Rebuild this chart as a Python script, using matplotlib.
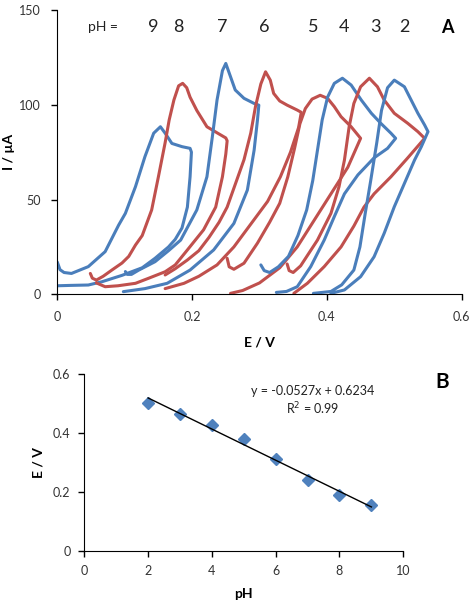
import numpy as np
import matplotlib.pyplot as plt

plt.rcParams['font.family'] = ['Lato', 'DejaVu Sans']

BLUE = '#4a7ebb'
RED = '#c0504d'

# --- panel A: voltammograms (E in V, I in uA) ---
e_ph9 = [0.000, 0.004, 0.010, 0.021, 0.046, 0.071, 0.091, 0.101, 0.116, 0.130, 0.143, 0.153, 0.160, 0.170, 0.185,
         0.197, 0.199, 0.197, 0.193, 0.185, 0.175, 0.165, 0.145, 0.126, 0.096, 0.066, 0.046, 0.020, 0.000]
i_ph9 = [17, 13, 11.5, 11, 14.6, 22.5, 36.5, 42.7, 56.8, 72.6, 85, 88.4, 85, 79.6, 77.9,
         77, 75, 62, 46, 35, 29, 25, 19, 14, 10, 6.6, 4.9, 4.7, 4.5]

e_ph8 = [0.049, 0.052, 0.058, 0.068, 0.081, 0.096, 0.106, 0.116, 0.126, 0.140, 0.150, 0.160, 0.166, 0.173, 0.180,
         0.186, 0.192, 0.197, 0.207, 0.222, 0.238, 0.250, 0.252, 0.250, 0.245, 0.235, 0.217, 0.193, 0.175,
         0.160, 0.135, 0.116, 0.090, 0.071, 0.058]
i_ph8 = [11, 8.5, 7.5, 9.5, 12.8, 16.5, 20, 26, 31, 44.5, 62, 80, 92, 102.5, 110,
         111.3, 109, 104, 97, 88.4, 85, 82.5, 81, 74, 62, 46, 34, 23.4, 15.5,
         11.9, 8.4, 5.8, 4.5, 4, 6]

e_ph7 = [0.101, 0.104, 0.110, 0.121, 0.145, 0.165, 0.183, 0.207, 0.222, 0.230, 0.237, 0.245, 0.250, 0.257, 0.264,
         0.277, 0.292, 0.299, 0.297, 0.292, 0.282, 0.262, 0.232, 0.197, 0.163, 0.130, 0.098]
i_ph7 = [12, 10.5, 10.5, 12.8, 17.2, 23, 28.6, 44.5, 62, 83, 102.5, 118, 121.8, 114.8, 107.8,
         103.4, 100.7, 99.8, 92, 76, 55, 37.4, 23.4, 12.8, 5.8, 3, 1.4]

e_ph6 = [0.160, 0.175, 0.193, 0.210, 0.225, 0.240, 0.252, 0.262, 0.277, 0.287, 0.294, 0.302, 0.309, 0.316, 0.321,
         0.330, 0.341, 0.356, 0.362, 0.358, 0.346, 0.331, 0.312, 0.287, 0.262, 0.237, 0.210, 0.188, 0.160]
i_ph6 = [10.2, 13.5, 18.1, 23, 30, 38, 46, 56, 71, 85, 99, 111, 117.4, 113, 106,
         102, 99.8, 97.2, 96, 88, 75, 62, 49, 37, 25, 15.5, 9.5, 5.8, 3]

e_ph5 = [0.252, 0.255, 0.262, 0.277, 0.297, 0.315, 0.330, 0.342, 0.352, 0.360, 0.368, 0.378, 0.390, 0.401, 0.411,
         0.421, 0.436, 0.450, 0.431, 0.406, 0.381, 0.356, 0.330, 0.300, 0.275, 0.257]
i_ph5 = [19, 14.5, 13.2, 16.4, 27, 38, 48, 62, 77, 90, 98, 103, 105, 103.4, 99,
         93.7, 88.4, 82.3, 67, 53, 39, 25, 14, 6, 2, 0.5]

e_ph4 = [0.302, 0.307, 0.315, 0.328, 0.343, 0.357, 0.370, 0.379, 0.386, 0.393, 0.401, 0.411, 0.423, 0.436, 0.451,
         0.466, 0.480, 0.495, 0.502, 0.490, 0.470, 0.446, 0.426, 0.411, 0.396, 0.376, 0.356, 0.340, 0.325]
i_ph4 = [15.5, 12.5, 11.5, 14.5, 20, 31, 44.5, 60, 76, 92, 104, 111.3, 114, 110.4, 102.5,
         95.5, 90.2, 85, 82.3, 77, 72, 63, 53, 41, 28.6, 14.6, 4, 1.5, 1]

e_ph3 = [0.341, 0.344, 0.350, 0.361, 0.386, 0.406, 0.418, 0.426, 0.433, 0.440, 0.450, 0.463, 0.475, 0.485, 0.500,
         0.520, 0.535, 0.545, 0.520, 0.495, 0.470, 0.455, 0.440, 0.421, 0.396, 0.371, 0.351]
i_ph3 = [16, 12.5, 11.5, 15, 28.6, 42.7, 56.8, 70.8, 88.4, 100.7, 109.5, 114, 109.5, 102.5, 95.5,
         90.2, 85.8, 82.3, 72, 62, 53, 46, 36, 25, 14.6, 5.8, 0.5]

e_ph2 = [0.380, 0.406, 0.422, 0.440, 0.449, 0.457, 0.465, 0.474, 0.481, 0.490, 0.500, 0.515, 0.525, 0.535, 0.545,
         0.550, 0.540, 0.530, 0.515, 0.500, 0.485, 0.470, 0.450, 0.426, 0.406]
i_ph2 = [0.5, 1.5, 5, 12.8, 25, 43, 60, 80, 97, 109, 113, 109.5, 102.5, 95.5, 89.3,
         85.8, 77.8, 70.8, 58.5, 46.2, 32.2, 19.8, 9.3, 2.3, 0.5]

curves = [(e_ph9, i_ph9, BLUE), (e_ph8, i_ph8, RED), (e_ph7, i_ph7, BLUE), (e_ph6, i_ph6, RED),
          (e_ph5, i_ph5, RED), (e_ph4, i_ph4, BLUE), (e_ph3, i_ph3, RED), (e_ph2, i_ph2, BLUE)]

ph_labels = ['9', '8', '7', '6', '5', '4', '3', '2']
ph_label_x = [0.142, 0.180, 0.245, 0.307, 0.380, 0.425, 0.472, 0.515]

# --- panel B: peak potential vs pH ---
ph = [2, 3, 4, 5, 6, 7, 8, 9]
e_peak = [0.50, 0.465, 0.425, 0.38, 0.31, 0.24, 0.19, 0.155]
slope, intercept = -0.0527, 0.6234

W, H = 476, 608
fig = plt.figure(figsize=(W / 100, H / 100), dpi=100)

tick_col = '#333333'

ax1 = fig.add_axes([57.3 / W, 1 - 294.3 / H, 404.4 / W, 284.3 / H])
for e, i, c in curves:
    ax1.plot(e, i, color=c, lw=2.2, solid_joinstyle='round', solid_capstyle='round')
ax1.set_xlim(0, 0.6)
ax1.set_ylim(0, 150)
ax1.set_xticks([0, 0.2, 0.4, 0.6])
ax1.set_xticklabels(['0', '0.2', '0.4', '0.6'])
ax1.set_yticks([0, 50, 100, 150])
ax1.spines[['top', 'right']].set_visible(False)
ax1.tick_params(direction='out', length=4, width=1, labelsize=9, labelcolor=tick_col, pad=8)
ax1.set_xlabel('E / V', fontsize=10, fontweight='bold', labelpad=10)
ax1.set_ylabel('I / µA', fontsize=10, fontweight='bold', labelpad=3)
ax1.text(0.068, 141, 'pH =', fontsize=10, ha='center', va='center', color='#222222')
for lab, x in zip(ph_labels, ph_label_x):
    ax1.text(x, 141, lab, fontsize=13, ha='center', va='center', color='#222222')
ax1.text(0.579, 141, 'A', fontsize=13, fontweight='bold', ha='center', va='center', clip_on=False)

ax2 = fig.add_axes([84.3 / W, 1 - 551 / H, 319 / W, 177.3 / H])
ax2.plot(ph, e_peak, linestyle='none', marker='D', markersize=6.5, color='#4f81bd')
xl = np.array([ph[0], ph[-1]])
ax2.plot(xl, slope * xl + intercept, color='black', lw=1)
ax2.set_xlim(0, 10)
ax2.set_ylim(0, 0.6)
ax2.set_xticks([0, 2, 4, 6, 8, 10])
ax2.set_yticks([0, 0.2, 0.4, 0.6])
ax2.set_yticklabels(['0', '0.2', '0.4', '0.6'])
ax2.spines[['top', 'right']].set_visible(False)
ax2.tick_params(direction='out', length=4, width=1, labelsize=9, labelcolor=tick_col, pad=6)
ax2.set_xlabel('pH', fontsize=10, fontweight='bold', labelpad=8)
ax2.set_ylabel('E / V', fontsize=10, fontweight='bold', labelpad=6)
ax2.text(7.15, 0.543, 'y = -0.0527x + 0.6234', fontsize=9, ha='center', va='center', color='#222222')
ax2.text(7.15, 0.48, 'R$^2$ = 0.99', fontsize=9, ha='center', va='center', color='#222222')
fig.text(441.7 / W, 1 - 381.7 / H, 'B', fontsize=15, fontweight='bold', ha='center', va='center')

fig.savefig('out.png', dpi=100)
